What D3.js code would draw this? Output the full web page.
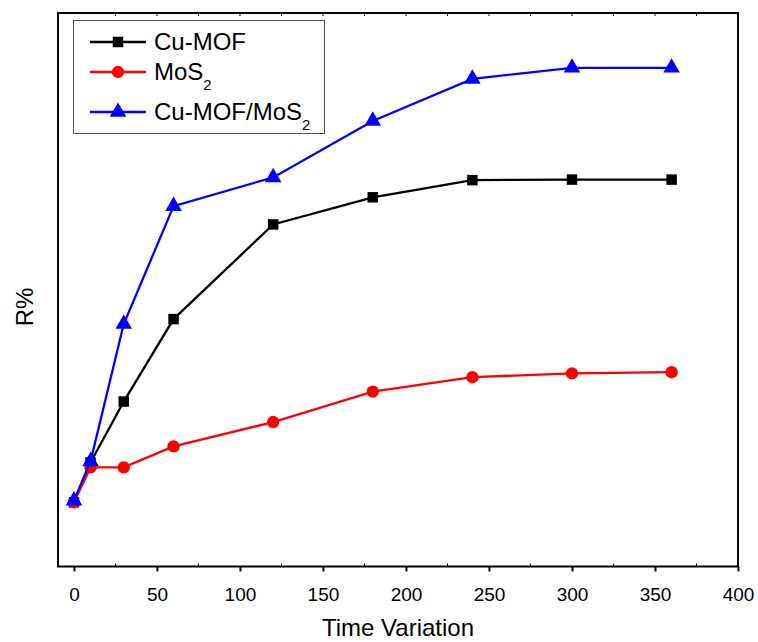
<!DOCTYPE html>
<html>
<head>
<meta charset="utf-8">
<script src="https://cdn.jsdelivr.net/npm/d3@7"></script>
<style>
  body { margin: 0; background: #fff; }
  svg text { font-family: Arial, "Liberation Sans", sans-serif; }
</style>
</head>
<body>
<svg id="svg" width="758" height="642"></svg>
<script>
// time points (x) and R% values
var times = [0, 10, 30, 60, 120, 180, 240, 300, 360];
var cuMof = [11.6, 18.8, 29.8, 44.7, 61.8, 66.7, 69.8, 69.9, 69.9];
var mos2 = [11.6, 17.9, 17.9, 21.7, 26.1, 31.6, 34.2, 34.9, 35.1];
var cuMofMos2 = [11.9, 19.0, 43.8, 65.1, 70.3, 80.5, 88.1, 90.1, 90.1];
var xTicks = [0, 50, 100, 150, 200, 250, 300, 350, 400];

var margin = { top: 13, right: 20, bottom: 75.5, left: 58 };
var width = 758, height = 642;
var innerW = width - margin.left - margin.right;
var innerH = height - margin.top - margin.bottom;

var svg = d3.select('#svg');
var g = svg.append('g').attr('transform', 'translate(' + margin.left + ',' + margin.top + ')');

var x = d3.scaleLinear().domain([-9.6, 400]).range([0, innerW]);
var y = d3.scaleLinear().domain([0, 100]).range([innerH, 0]);

// minor inward ticks on bottom and top
var minor = d3.range(25, 400, 50);
g.selectAll('.minb').data(minor).enter().append('line')
  .attr('x1', d => x(d)).attr('x2', d => x(d))
  .attr('y1', innerH).attr('y2', innerH - 3)
  .attr('stroke', '#000').attr('stroke-width', 1);
g.selectAll('.mint').data(d3.range(25, 400, 25)).enter().append('line')
  .attr('x1', d => x(d)).attr('x2', d => x(d))
  .attr('y1', 0).attr('y2', 3)
  .attr('stroke', '#000').attr('stroke-width', 1);

// bottom axis
var xAxis = g.append('g')
  .attr('transform', 'translate(0,' + innerH + ')')
  .call(d3.axisBottom(x).tickValues(xTicks).tickSize(5).tickSizeOuter(0).tickPadding(16));
xAxis.select('.domain').remove();
xAxis.selectAll('line').attr('stroke-width', 2);
xAxis.selectAll('text').attr('font-size', '19px').attr('fill', '#000');

// frame
g.append('rect')
  .attr('x', 0).attr('y', 0).attr('width', innerW).attr('height', innerH)
  .attr('fill', 'none').attr('stroke', '#000').attr('stroke-width', 2);

// axis titles
svg.append('text')
  .attr('x', margin.left + innerW / 2).attr('y', 636)
  .attr('text-anchor', 'middle').attr('font-size', '24px')
  .text('Time Variation');
svg.append('text')
  .attr('transform', 'translate(33,307) rotate(-90)')
  .attr('text-anchor', 'middle').attr('font-size', '24px')
  .text('R%');

var series = [
  { name: 'Cu-MOF', sub: null, values: cuMof, color: '#000000', shape: d3.symbolSquare, size: 110 },
  { name: 'MoS', sub: '2', values: mos2, color: '#ff0000', shape: d3.symbolCircle, size: 120 },
  { name: 'Cu-MOF/MoS', sub: '2', values: cuMofMos2, color: '#0000ff', shape: d3.symbolTriangle, size: 120 }
];

var line = d3.line()
  .x(d => x(d[0]))
  .y(d => y(d[1]));

series.forEach(function(s) {
  var pts = times.map((t, i) => [t, s.values[i]]);
  g.append('path')
    .datum(pts)
    .attr('d', line)
    .attr('fill', 'none')
    .attr('stroke', s.color)
    .attr('stroke-width', 2.3);
  g.selectAll(null).data(pts).enter().append('path')
    .attr('transform', d => 'translate(' + x(d[0]) + ',' + y(d[1]) + ')')
    .attr('d', d3.symbol().type(s.shape).size(s.size))
    .attr('fill', s.color);
});

// legend
var legend = svg.append('g');
legend.append('rect')
  .attr('x', 73.5).attr('y', 20.5).attr('width', 251).attr('height', 113)
  .attr('fill', '#fff').attr('stroke', '#555').attr('stroke-width', 1);
var rowY = [42, 72, 112];
series.forEach(function(s, i) {
  var ly = rowY[i];
  legend.append('line')
    .attr('x1', 90).attr('x2', 146).attr('y1', ly).attr('y2', ly)
    .attr('stroke', s.color).attr('stroke-width', 2.3);
  legend.append('path')
    .attr('transform', 'translate(118,' + ly + ')')
    .attr('d', d3.symbol().type(s.shape).size(s.size))
    .attr('fill', s.color);
  var t = legend.append('text')
    .attr('x', 154).attr('y', ly + 8)
    .attr('font-size', '24px')
    .text(s.name);
  if (s.sub) {
    t.append('tspan').attr('font-size', '15px').attr('dy', 10).text(s.sub);
  }
});
</script>
</body>
</html>
